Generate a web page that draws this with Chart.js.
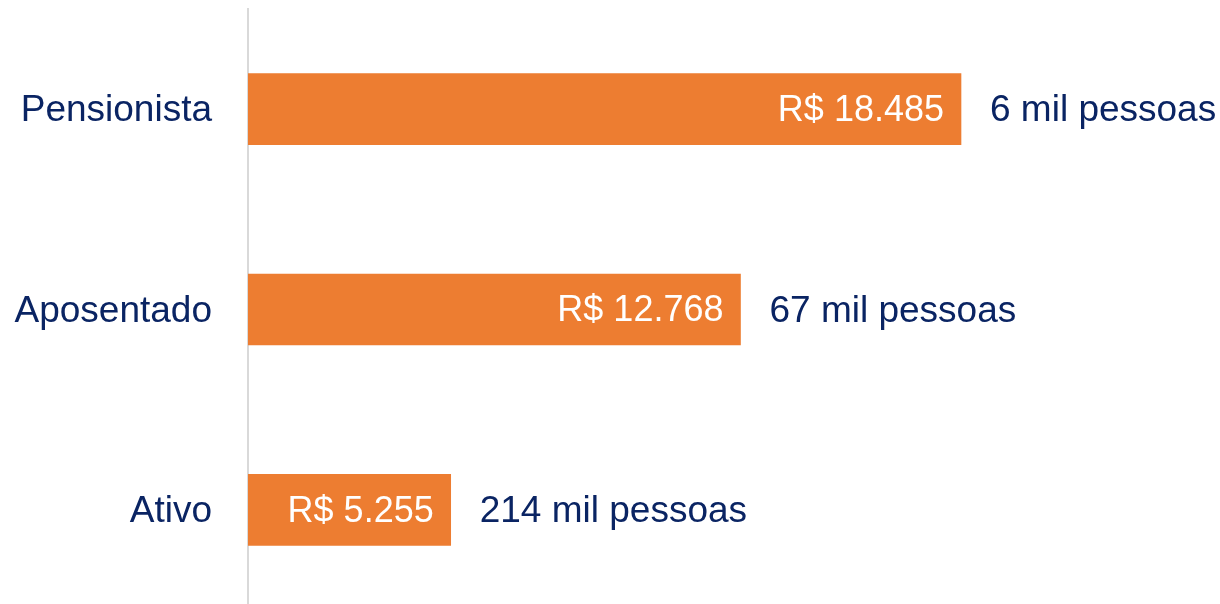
<!DOCTYPE html>
<html>
<head>
<meta charset="utf-8">
<script src="https://cdn.jsdelivr.net/npm/chart.js@4/dist/chart.umd.min.js"></script>
<style>
  html, body { margin: 0; padding: 0; background: #ffffff; overflow: hidden; }
  #wrap { width: 1220px; height: 610px; }
</style>
</head>
<body>
<div id="wrap"><canvas id="c" width="1220" height="610"></canvas></div>
<script>
const categories = ["Pensionista", "Aposentado", "Ativo"];
const values = [18485, 12768, 5255];
const valueLabels = ["R$ 18.485", "R$ 12.768", "R$ 5.255"];
const peopleLabels = ["6 mil pessoas", "67 mil pessoas", "214 mil pessoas"];

const NAVY = "#0a2463";
const ORANGE = "#ed7d31";
const FONT = "'Liberation Sans', Arial, sans-serif";

const labelPlugin = {
  id: "barLabels",
  afterDatasetsDraw(chart) {
    const ctx = chart.ctx;
    const meta = chart.getDatasetMeta(0);
    ctx.save();
    ctx.textBaseline = "middle";
    meta.data.forEach((bar, i) => {
      const y = bar.y + 2;
      ctx.font = "36px " + FONT;
      ctx.fillStyle = "#ffffff";
      ctx.textAlign = "right";
      ctx.fillText(valueLabels[i], bar.x - 17, y);
      ctx.font = "37px " + FONT;
      ctx.fillStyle = NAVY;
      ctx.textAlign = "left";
      ctx.fillText(peopleLabels[i], bar.x + 29, y);
    });
    ctx.restore();
  }
};

new Chart(document.getElementById("c"), {
  type: "bar",
  data: {
    labels: categories,
    datasets: [{
      data: values,
      backgroundColor: ORANGE,
      borderWidth: 0,
      barThickness: 71
    }]
  },
  options: {
    indexAxis: "y",
    responsive: false,
    animation: false,
    maintainAspectRatio: false,
    layout: { padding: { top: 9, right: 0, bottom: 0, left: 0 } },
    plugins: { legend: { display: false }, tooltip: { enabled: false } },
    scales: {
      x: {
        display: false,
        min: 0,
        max: 25200
      },
      y: {
        afterFit(scale) {
          scale.width = 248;
          scale.paddingTop = 0;
          scale.paddingBottom = 0;
        },
        grid: { display: false, drawTicks: false },
        border: { display: true, color: "#d9d9d9", width: 2 },
        ticks: {
          padding: 36,
          labelOffset: 2,
          color: NAVY,
          font: { family: FONT, size: 37 }
        }
      }
    }
  },
  plugins: [labelPlugin]
});
</script>
</body>
</html>
